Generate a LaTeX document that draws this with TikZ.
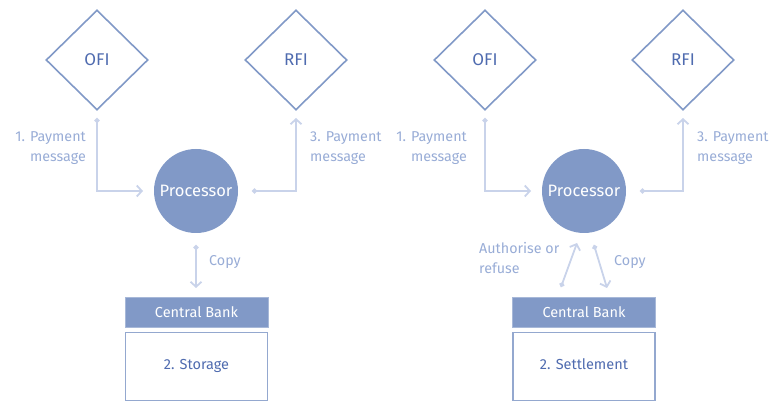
\documentclass[tikz,border=0pt]{standalone}
\usepackage{fontspec}
\setmainfont{Fira Sans}
\usetikzlibrary{shapes.geometric,arrows.meta}
\definecolor{mid}{HTML}{8199C7}
\definecolor{dark}{HTML}{4F6BAF}
\definecolor{pale}{HTML}{C9D3EA}
\definecolor{lbl}{HTML}{98ACD6}
\tikzset{
  fi/.style={diamond,draw=mid,line width=1.6pt,minimum width=102pt,minimum height=100pt,inner sep=0pt,text=dark,font=\fontsize{17}{19}\selectfont},
  proc/.style={circle,fill=mid,minimum size=84pt,inner sep=0pt,text=white,font=\fontsize{16.5}{18}\selectfont},
  cb/.style={rectangle,fill=mid,draw=mid!70!white,line width=1pt,minimum width=143pt,minimum height=29pt,inner sep=0pt,text=white,font=\fontsize{14.5}{16}\selectfont},
  store/.style={rectangle,draw=mid!85!white,line width=1.8pt,minimum width=142pt,minimum height=68pt,inner sep=0pt,text=dark,font=\fontsize{14.5}{16}\selectfont},
  conn/.style={draw=pale,line width=1.8pt,{Circle[length=5pt]}-{Straight Barb[length=5pt,width=11pt]}},
  lab/.style={text=lbl,font=\fontsize{14.3}{20}\selectfont,inner sep=0pt}
}
\begin{document}
\begin{tikzpicture}[x=1pt,y=-1pt]
\useasboundingbox (0,0) rectangle (771,403);
% left panel
\node[fi] (ofiL) at (97,60) {OFI};
\node[fi] (rfiL) at (296,60) {RFI};
\node[proc] (procL) at (196,191) {Processor};
\node[cb] (cbL) at (196.5,312.5) {Central Bank};
\node[store] (stL) at (196.5,366.5) {\raisebox{4pt}{2. Storage}};
\coordinate (a1s) at (97,118);
\coordinate (a1e) at (143,191);
\coordinate (a3s) at (252,191);
\coordinate (a3e) at (296,118);
\coordinate (c1s) at (196,245);
\coordinate (c1e) at (196,288);
\draw[conn] (a1s) |- (a1e);
\draw[conn] (a3s) -| (a3e);
\draw[conn] (c1s) -- (c1e);
\node[lab,align=right,anchor=east] (l1L) at (86,148) {1. Payment\\message};
\node[lab,align=left,anchor=west] (l3L) at (310,148) {3. Payment\\message};
\node[lab,anchor=west] (cpL) at (209,262) {Copy};
% right panel
\node[fi] (ofiR) at (485,60) {OFI};
\node[fi] (rfiR) at (683,60) {RFI};
\node[proc] (procR) at (584,191) {Processor};
\node[cb] (cbR) at (584,312.5) {Central Bank};
\node[store] (stR) at (584,366.5) {\raisebox{4pt}{2. Settlement}};
\coordinate (b1s) at (485,118);
\coordinate (b1e) at (531,191);
\coordinate (b3s) at (640,191);
\coordinate (b3e) at (683,118);
\coordinate (aus) at (561,287);
\coordinate (aue) at (577,243);
\coordinate (c2s) at (594,245);
\coordinate (c2e) at (607,288);
\draw[conn] (b1s) |- (b1e);
\draw[conn] (b3s) -| (b3e);
\draw[conn] (aus) -- (aue);
\draw[conn] (c2s) -- (c2e);
\node[lab,align=right,anchor=east] (l1R) at (467,148) {1. Payment\\message};
\node[lab,align=left,anchor=west] (l3R) at (697,148) {3. Payment\\message};
\node[lab,align=left,anchor=west] (auR) at (479,258) {Authorise or\\refuse};
\node[lab,anchor=west] (cpR) at (614,262) {Copy};
\end{tikzpicture}
\end{document}
